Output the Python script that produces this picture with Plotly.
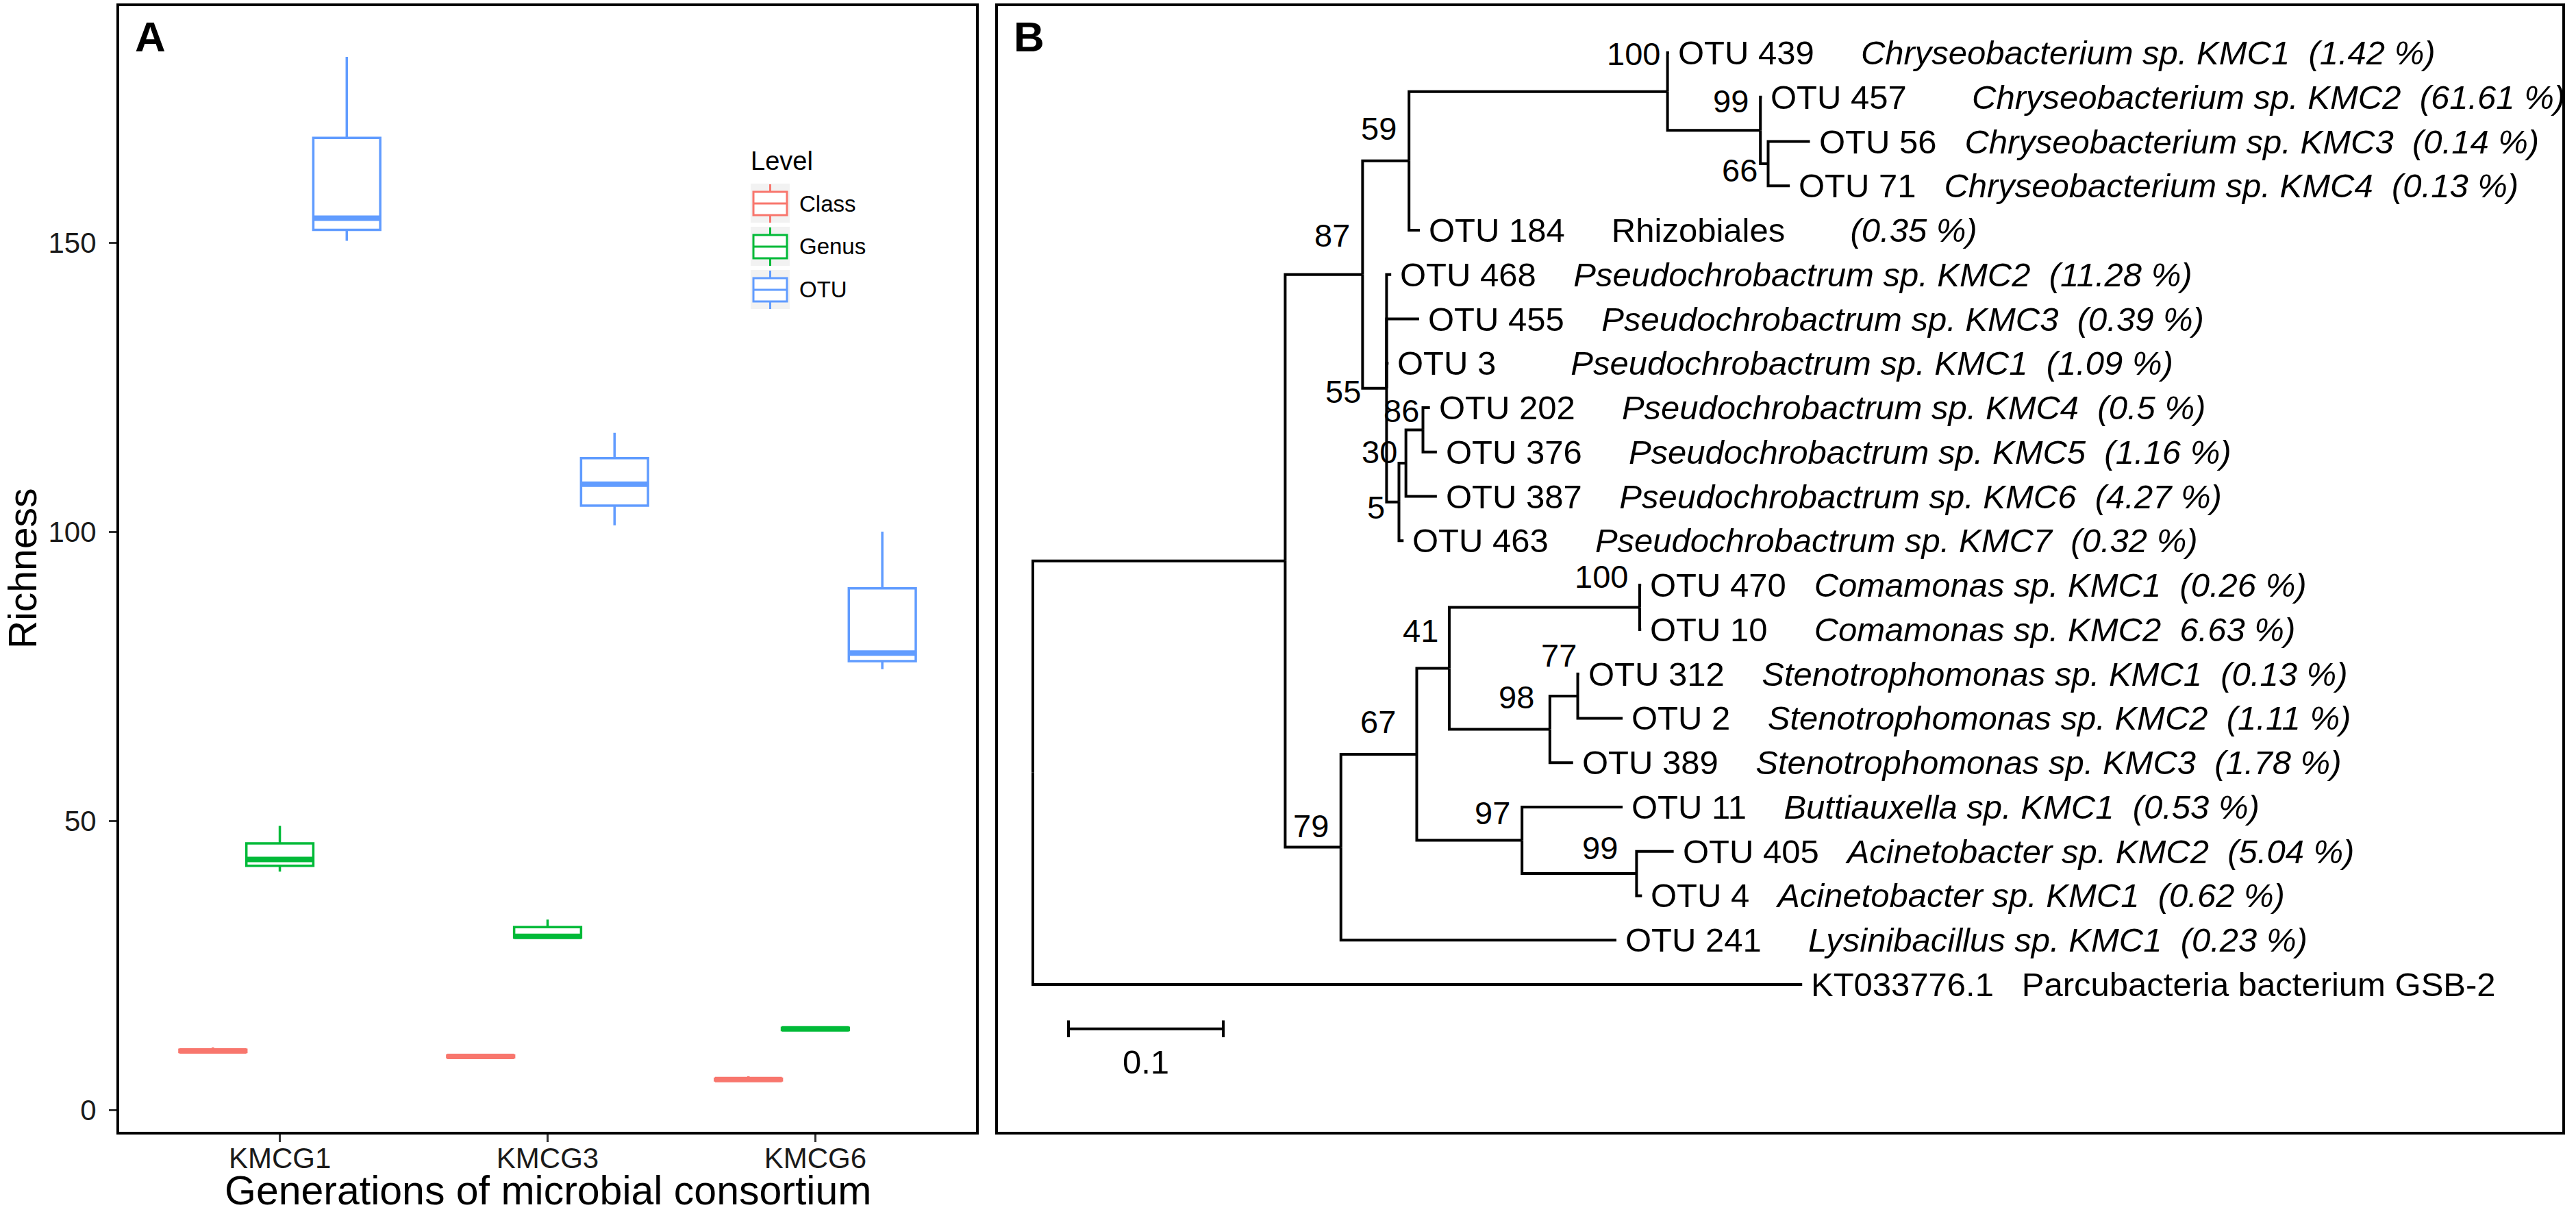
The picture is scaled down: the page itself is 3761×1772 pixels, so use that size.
import re
import plotly.graph_objects as go

W, H = 3761, 1772

# ---------------- Panel A: richness box plots ----------------
generations = ["KMCG1", "KMCG3", "KMCG6"]
levels = ["Class", "Genus", "OTU"]
level_colors = ["#F8766D", "#00BA38", "#619CFF"]

class_lower = [9.9, 9.0, 5.0]
class_q1 = [10.0, 9.1, 5.1]
class_median = [10.2, 9.25, 5.25]
class_q3 = [10.4, 9.4, 5.4]
class_upper = [10.8, 9.7, 5.8]

genus_lower = [41.2, 29.8, 13.6]
genus_q1 = [42.2, 29.8, 13.8]
genus_median = [43.3, 30.0, 14.0]
genus_q3 = [46.1, 31.6, 14.2]
genus_upper = [49.1, 32.9, 14.3]

otu_lower = [150.3, 101.1, 76.2]
otu_q1 = [152.2, 104.5, 77.6]
otu_median = [154.2, 108.2, 79.0]
otu_q3 = [168.1, 112.7, 90.2]
otu_upper = [182.1, 117.1, 100.0]

y_ticks = [0, 50, 100, 150]

# ---------------- Panel B: phylogenetic tree ----------------
tree_newick = (
    "(((((OTU_439:0.001,(OTU_457:0.001,(OTU_56:0.027,OTU_71:0.014)66:0.005)99:0.060)100:0.167,"
    "OTU_184:0.007)59:0.030,(OTU_468:0.003,OTU_455:0.021,OTU_3:0.0013,"
    "(((OTU_202:0.0045,OTU_376:0.009)86:0.011,OTU_387:0.020)30:0.0045,OTU_463:0.003)5:0.008)55:0.0155)87:0.050,"
    "((((OTU_470:0.001,OTU_10:0.001)100:0.123,((OTU_312:0.001,OTU_2:0.029)77:0.018,OTU_389:0.015)98:0.065)41:0.021,"
    "(OTU_11:0.065,(OTU_405:0.024,OTU_4:0.0035)99:0.074)97:0.068)67:0.049,OTU_241:0.178)79:0.036):0.163,"
    "KT033776.1:0.497);"
)

tip_ids = ["OTU_439", "OTU_457", "OTU_56", "OTU_71", "OTU_184", "OTU_468", "OTU_455", "OTU_3",
           "OTU_202", "OTU_376", "OTU_387", "OTU_463", "OTU_470", "OTU_10", "OTU_312", "OTU_2",
           "OTU_389", "OTU_11", "OTU_405", "OTU_4", "OTU_241", "KT033776.1"]
tip_names = ["OTU 439", "OTU 457", "OTU 56", "OTU 71", "OTU 184", "OTU 468", "OTU 455", "OTU 3",
             "OTU 202", "OTU 376", "OTU 387", "OTU 463", "OTU 470", "OTU 10", "OTU 312", "OTU 2",
             "OTU 389", "OTU 11", "OTU 405", "OTU 4", "OTU 241", "KT033776.1"]
tip_taxa = ["Chryseobacterium sp. KMC1", "Chryseobacterium sp. KMC2", "Chryseobacterium sp. KMC3",
            "Chryseobacterium sp. KMC4", "Rhizobiales", "Pseudochrobactrum sp. KMC2",
            "Pseudochrobactrum sp. KMC3", "Pseudochrobactrum sp. KMC1", "Pseudochrobactrum sp. KMC4",
            "Pseudochrobactrum sp. KMC5", "Pseudochrobactrum sp. KMC6", "Pseudochrobactrum sp. KMC7",
            "Comamonas sp. KMC1", "Comamonas sp. KMC2", "Stenotrophomonas sp. KMC1",
            "Stenotrophomonas sp. KMC2", "Stenotrophomonas sp. KMC3", "Buttiauxella sp. KMC1",
            "Acinetobacter sp. KMC2", "Acinetobacter sp. KMC1", "Lysinibacillus sp. KMC1",
            "Parcubacteria bacterium GSB-2"]
tip_abundance = ["(1.42 %)", "(61.61 %)", "(0.14 %)", "(0.13 %)", "(0.35 %)", "(11.28 %)", "(0.39 %)",
                 "(1.09 %)", "(0.5 %)", "(1.16 %)", "(4.27 %)", "(0.32 %)", "(0.26 %)", "6.63 %)",
                 "(0.13 %)", "(1.11 %)", "(1.78 %)", "(0.53 %)", "(5.04 %)", "(0.62 %)", "(0.23 %)", ""]
scale_length = 0.1

# ---------------- style (not data) ----------------
FONT = "Liberation Sans"
italic_taxon = [t not in ("Rhizobiales", "Parcubacteria bacterium GSB-2") for t in tip_taxa]
name_gap = {"OTU_439": 5, "OTU_457": 7, "OTU_56": 3, "OTU_71": 3, "OTU_184": 5, "OTU_468": 4,
            "OTU_455": 4, "OTU_3": 8, "OTU_202": 5, "OTU_376": 5, "OTU_387": 4, "OTU_463": 5,
            "OTU_470": 3, "OTU_10": 5, "OTU_312": 4, "OTU_2": 4, "OTU_389": 4, "OTU_11": 4,
            "OTU_405": 3, "OTU_4": 3, "OTU_241": 5, "KT033776.1": 3}
abund_gap = {"OTU_184": 7}
support_nudge = {("100", "OTU_439"): (-9, 55), ("99", "OTU_457"): (-15, 43), ("66", "OTU_56"): (-14, -10),
                 ("59", "OTU_439"): (-16, 47), ("87", "OTU_439"): (-16, 57), ("55", "OTU_468"): (-35, -5),
                 ("86", "OTU_202"): (-4, 28), ("30", "OTU_202"): (-11, 17), ("5", "OTU_202"): (-18, -8),
                 ("79", "OTU_470"): (-16, 31), ("67", "OTU_470"): (-28, 48), ("41", "OTU_470"): (-14, 55),
                 ("100", "OTU_470"): (-15, 45), ("98", "OTU_312"): (-21, 47), ("77", "OTU_312"): (0, 60),
                 ("97", "OTU_11"): (-15, 40), ("99", "OTU_405"): (-25, 38)}


def parse_newick(s):
    pos = [0]

    def node():
        children = []
        if s[pos[0]] == "(":
            pos[0] += 1
            while True:
                children.append(node())
                ch = s[pos[0]]
                pos[0] += 1
                if ch == ")":
                    break
        m = re.match(r"[^:,();]*", s[pos[0]:])
        label = m.group(0)
        pos[0] += len(label)
        length = 0.0
        if pos[0] < len(s) and s[pos[0]] == ":":
            pos[0] += 1
            m = re.match(r"[0-9.eE+-]+", s[pos[0]:])
            length = float(m.group(0))
            pos[0] += len(m.group(0))
        return {"label": label, "length": length, "children": children}

    return node()


tree = parse_newick(tree_newick)
counter = [0]


def place(n, x0):
    n["x"] = x0 + n["length"]
    if not n["children"]:
        n["y"] = counter[0]
        counter[0] += 1
        n["first"] = n["label"]
    else:
        for c in n["children"]:
            place(c, n["x"])
        n["y"] = (n["children"][0]["y"] + n["children"][-1]["y"]) / 2.0
        n["first"] = n["children"][0]["first"]


place(tree, 0.0)

line_x, line_y = [], []
tips, internals = [], []


def walk(n):
    if not n["children"]:
        tips.append(n)
        return
    internals.append(n)
    for c in n["children"]:
        line_x.extend([n["x"], n["x"], c["x"], None])
        line_y.extend([n["y"], c["y"], c["y"], None])
        walk(c)


walk(tree)

fig = go.Figure()

# ---- Panel A boxes
stats = {
    "Class": (class_lower, class_q1, class_median, class_q3, class_upper),
    "Genus": (genus_lower, genus_q1, genus_median, genus_q3, genus_upper),
    "OTU": (otu_lower, otu_q1, otu_median, otu_q3, otu_upper),
}
for lvl, col in zip(levels, level_colors):
    lo, q1, md, q3, up = stats[lvl]
    fig.add_trace(go.Box(x=generations, lowerfence=lo, q1=q1, median=md, q3=q3, upperfence=up,
                         name=lvl, offsetgroup=lvl, line=dict(color=col, width=3.5),
                         fillcolor="white", boxpoints=False, whiskerwidth=0, showlegend=False,
                         hoverinfo="skip", xaxis="x", yaxis="y"))
for lvl, col in zip(levels, level_colors):
    md = stats[lvl][2]
    fig.add_trace(go.Box(x=generations, lowerfence=md, q1=md, median=md, q3=md, upperfence=md,
                         name=lvl + " median", offsetgroup=lvl, line=dict(color=col, width=8),
                         fillcolor=col, boxpoints=False, whiskerwidth=0, showlegend=False,
                         hoverinfo="skip", xaxis="x", yaxis="y"))

# ---- Panel B tree
fig.add_trace(go.Scatter(x=line_x, y=line_y, mode="lines", line=dict(color="black", width=4),
                         hoverinfo="skip", showlegend=False, xaxis="x2", yaxis="y2"))

bar_x0 = 0.023
bar_y = 22.0
fig.add_trace(go.Scatter(
    x=[bar_x0, bar_x0 + scale_length, None, bar_x0, bar_x0, None, bar_x0 + scale_length, bar_x0 + scale_length],
    y=[bar_y, bar_y, None, bar_y - 0.19, bar_y + 0.19, None, bar_y - 0.19, bar_y + 0.19],
    mode="lines", line=dict(color="black", width=4), hoverinfo="skip", showlegend=False,
    xaxis="x2", yaxis="y2"))

annotations = []
NB = "\u00a0"
for t in tips:
    i = tip_ids.index(t["label"])
    taxon = tip_taxa[i]
    ab = tip_abundance[i]
    gap2 = NB * abund_gap.get(t["label"], 2)
    if italic_taxon[i]:
        tail_html = "<i>" + taxon + ((gap2 + ab) if ab else "") + "</i>"
    else:
        tail_html = taxon + ((gap2 + "<i>" + ab + "</i>") if ab else "")
    text = tip_names[i] + NB * name_gap[t["label"]] + tail_html
    annotations.append(dict(x=t["x"], y=t["y"], xref="x2", yref="y2", text=text, showarrow=False,
                            xanchor="left", yanchor="middle", xshift=11,
                            font=dict(family=FONT, size=49, color="black")))

for n in internals:
    if not n["label"]:
        continue
    dx, dy = support_nudge.get((n["label"], n["first"]), (-15, 45))
    annotations.append(dict(x=n["x"], y=n["y"], xref="x2", yref="y2", text=n["label"], showarrow=False,
                            xanchor="right", yanchor="middle", xshift=dx, yshift=dy,
                            font=dict(family=FONT, size=47, color="black")))

annotations.append(dict(x=bar_x0 + scale_length / 2, y=bar_y + 0.75, xref="x2", yref="y2",
                        text=str(scale_length), showarrow=False, xanchor="center", yanchor="middle",
                        font=dict(family=FONT, size=49, color="black")))

# panel letters and axis titles
annotations.append(dict(x=195 / W, y=1 - 53 / H, xref="paper", yref="paper", text="<b>A</b>",
                        showarrow=False, xanchor="left", yanchor="middle",
                        font=dict(family=FONT, size=62, color="black")))
annotations.append(dict(x=1478 / W, y=1 - 53 / H, xref="paper", yref="paper", text="<b>B</b>",
                        showarrow=False, xanchor="left", yanchor="middle",
                        font=dict(family=FONT, size=62, color="black")))
annotations.append(dict(x=33 / W, y=1 - 830 / H, xref="paper", yref="paper", text="Richness",
                        textangle=-90, showarrow=False, xanchor="center", yanchor="middle",
                        font=dict(family=FONT, size=57, color="black")))
annotations.append(dict(x=800 / W, y=0, xref="paper", yref="paper",
                        text="Generations of microbial consortium", showarrow=False,
                        xanchor="center", yanchor="bottom", borderpad=0,
                        font=dict(family=FONT, size=59, color="black")))

# ggplot-style legend drawn in paper coordinates
shapes = []
annotations.append(dict(x=1094 / W, y=1 - 235 / H, xref="paper", yref="paper", text="Level",
                        showarrow=False, xanchor="left", yanchor="middle",
                        font=dict(family=FONT, size=38, color="black")))


def P(px, py):
    return px / W, 1 - py / H


for k, (lvl, col) in enumerate(zip(levels, level_colors)):
    cy = 297 + 63 * k
    x0, y0 = P(1096, cy + 28)
    x1, y1 = P(1153, cy - 29)
    shapes.append(dict(type="rect", xref="paper", yref="paper", x0=x0, x1=x1, y0=y0, y1=y1,
                       fillcolor="#F2F2F2", line=dict(width=0), layer="above"))
    bx0, by0 = P(1100, cy + 17)
    bx1, by1 = P(1149, cy - 17)
    shapes.append(dict(type="rect", xref="paper", yref="paper", x0=bx0, x1=bx1, y0=by0, y1=by1,
                       fillcolor="white", line=dict(color=col, width=3), layer="above"))
    mx0, my = P(1100, cy)
    mx1, _ = P(1149, cy)
    shapes.append(dict(type="line", xref="paper", yref="paper", x0=mx0, x1=mx1, y0=my, y1=my,
                       line=dict(color=col, width=3), layer="above"))
    wx, wy0 = P(1124.5, cy - 28)
    _, wy1 = P(1124.5, cy - 17)
    shapes.append(dict(type="line", xref="paper", yref="paper", x0=wx, x1=wx, y0=wy0, y1=wy1,
                       line=dict(color=col, width=3), layer="above"))
    _, wy2 = P(1124.5, cy + 17)
    _, wy3 = P(1124.5, cy + 28)
    shapes.append(dict(type="line", xref="paper", yref="paper", x0=wx, x1=wx, y0=wy2, y1=wy3,
                       line=dict(color=col, width=3), layer="above"))
    tx, ty = P(1165, cy)
    annotations.append(dict(x=tx, y=ty, xref="paper", yref="paper", text=lvl, showarrow=False,
                            xanchor="left", yanchor="middle",
                            font=dict(family=FONT, size=33, color="black")))

TOP, BOT = 9, 1652
ppu = 2260.0
root_px = 1508.0
tip0_px, tip_step = 77.0, 64.76
bx_left, bx_right = 1457.0, 3741.0

axis_common = dict(showline=True, mirror=True, linecolor="black", linewidth=4, showgrid=False,
                   zeroline=False, automargin=False)

fig.update_layout(
    width=W, height=H, margin=dict(l=0, r=0, t=0, b=0),
    paper_bgcolor="white", plot_bgcolor="white",
    boxmode="group", boxgap=0.25, boxgroupgap=0,
    showlegend=False,
    xaxis=dict(domain=[174 / W, 1425 / W], type="category", categoryorder="array",
               categoryarray=generations, range=[-0.6, 2.6], ticks="outside", ticklen=11,
               tickwidth=3, tickcolor="#333333", anchor="y", ticklabelstandoff=-12,
               tickfont=dict(family=FONT, size=42, color="#1a1a1a"), **axis_common),
    yaxis=dict(domain=[1 - BOT / H, 1 - TOP / H], range=[(1620 - BOT) / 8.44, (1620 - TOP) / 8.44],
               tickvals=y_ticks, ticks="outside", ticklen=11, tickwidth=3, tickcolor="#333333",
               ticklabelstandoff=10, anchor="x",
               tickfont=dict(family=FONT, size=42, color="#1a1a1a"), **axis_common),
    xaxis2=dict(domain=[bx_left / W, bx_right / W],
                range=[(bx_left - root_px) / ppu, (bx_right - root_px) / ppu],
                showticklabels=False, ticks="", anchor="y2", **axis_common),
    yaxis2=dict(domain=[1 - BOT / H, 1 - TOP / H],
                range=[(BOT - tip0_px) / tip_step, (TOP - tip0_px) / tip_step],
                showticklabels=False, ticks="", anchor="x2", **axis_common),
    annotations=annotations,
    shapes=shapes,
)

fig.write_html("out.html", config={"displayModeBar": False},
               post_script="document.body.style.margin='0';document.body.style.overflow='hidden';")
